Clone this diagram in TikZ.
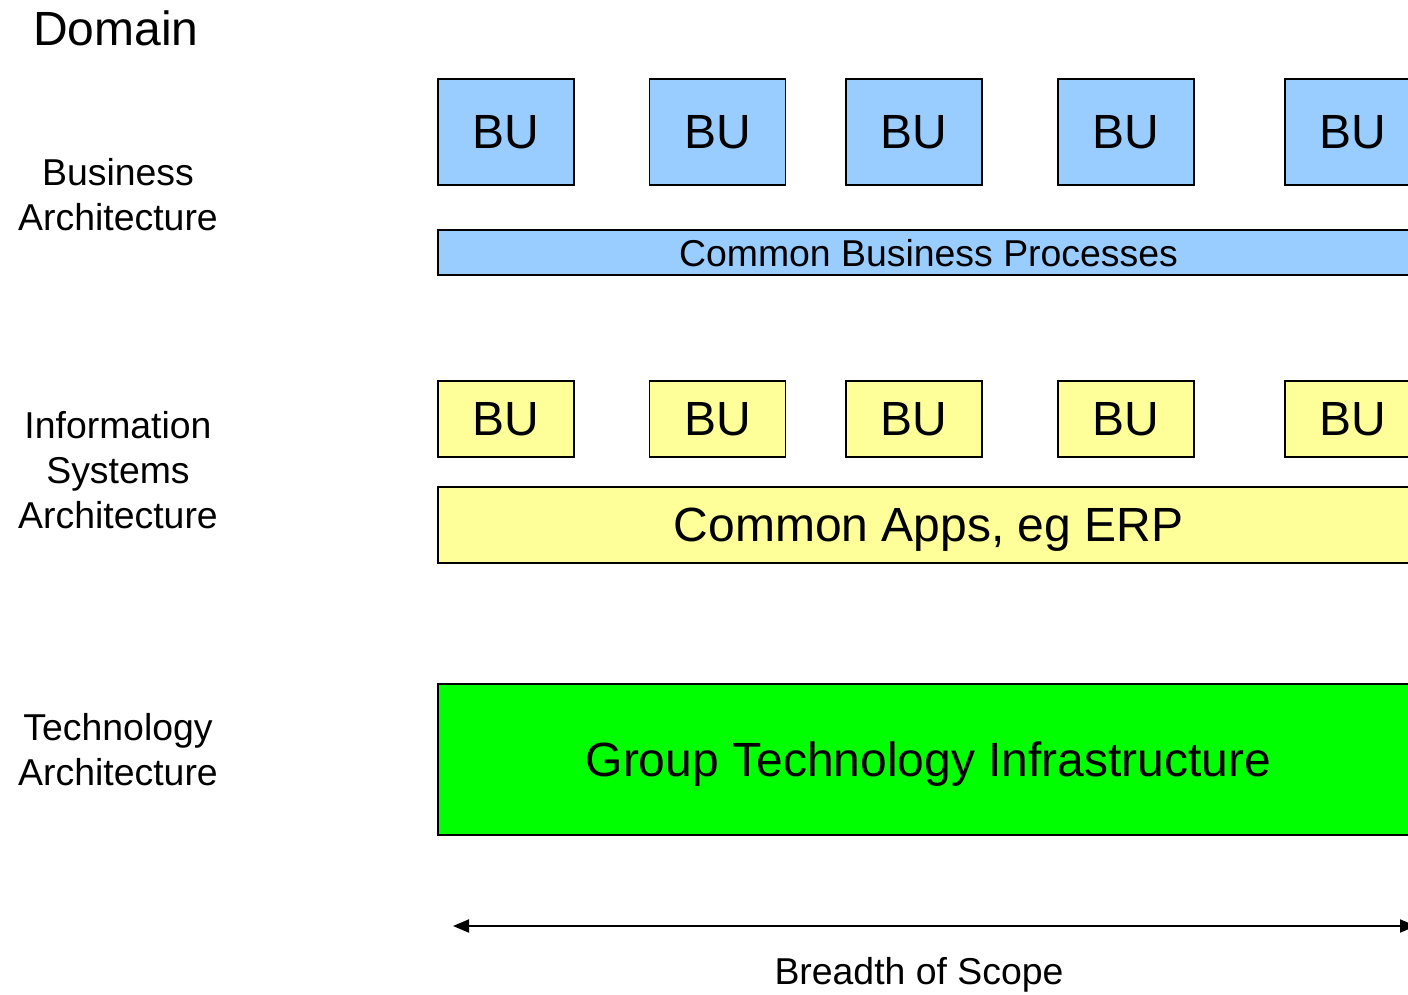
\documentclass[tikz,border=0pt]{standalone}
\usepackage{fontspec}
\setmainfont{Liberation Sans}
\usetikzlibrary{arrows.meta}

\definecolor{bizblue}{HTML}{99CCFF}
\definecolor{isyellow}{HTML}{FFFF99}
\definecolor{techgreen}{HTML}{00FF00}

\tikzset{
	box/.style={draw=black, line width=0.8pt, inner sep=0pt, text depth=0pt},
	bigfont/.style={font=\fontsize{24}{28}\selectfont},
	smallfont/.style={font=\fontsize{18.7}{22.5}\selectfont},
	layerlabel/.style={smallfont, align=center},
}

\begin{document}
\begin{tikzpicture}[x=0.5pt, y=-0.5pt]
	\useasboundingbox (0,0) rectangle (1408,995);
	\clip (0,0) rectangle (1408,995);

	% domains
	\node[bigfont] (domainhead) at (116,28) {Domain};
	\node[layerlabel] (biz) at (118,195) {Business\\Architecture};
	\node[layerlabel] (is) at (118,470) {Information\\Systems\\Architecture};
	\node[layerlabel] (tech) at (118,750) {Technology\\Architecture};

	% business units
	\foreach \i/\x in {1/506, 2/717.5, 3/914, 4/1126, 5/1353} {
		\node[box, bigfont, fill=bizblue, minimum width=68pt, minimum height=53pt] (bizbu\i) at (\x,132) {BU};
		\node[box, bigfont, fill=isyellow, minimum width=68pt, minimum height=38pt] (isbu\i) at (\x,419) {BU};
	}

	\node[box, smallfont, fill=bizblue, minimum width=490.5pt, minimum height=22.5pt] (process) at (928.5,252.5) {Common Business Processes};
	\node[box, bigfont, fill=isyellow, minimum width=490.5pt, minimum height=38pt] (apps) at (928.5,525) {Common Apps, eg ERP};
	\node[box, bigfont, fill=techgreen, minimum width=490.5pt, minimum height=75.5pt] (infra) at (928.5,759.5) {Group Technology Infrastructure};

	% scope
	\coordinate (scopeL) at (453,926);
	\coordinate (scopeR) at (1416,926);
	\draw[line width=1pt, {Triangle[length=8pt,width=6.5pt]}-{Triangle[length=8pt,width=6.5pt]}] (scopeL) -- (scopeR);
	\node[smallfont] (scope) at (919,975) {Breadth of Scope};
\end{tikzpicture}
\end{document}
